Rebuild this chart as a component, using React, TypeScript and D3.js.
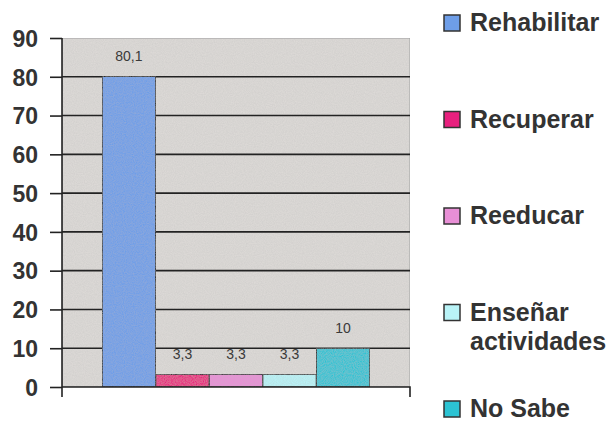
import React, { useEffect, useRef } from "react";
import { axisLeft, scaleBand, scaleLinear, scalePoint, select } from "d3";

const series = ["Rehabilitar", "Recuperar", "Reeducar", "Enseñar actividades", "No Sabe"];
const values = [80.1, 3.3, 3.3, 3.3, 10];
const valueLabels = ["80,1", "3,3", "3,3", "3,3", "10"];
const colors = ["#6e9ee8", "#e8207e", "#e88fd6", "#b9f3f7", "#2cc3d3"];
const yTicks = [0, 10, 20, 30, 40, 50, 60, 70, 80, 90];

const width = 616;
const height = 427;
const plot = { left: 62, right: 410, top: 38, bottom: 387 };
const font = "'Liberation Sans', Arial, sans-serif";

export default function App() {
  const svgRef = useRef<SVGSVGElement | null>(null);

  useEffect(() => {
    const svg = select(svgRef.current);
    svg.selectAll("*").remove();

    const defs = svg.append("defs");
    const filter = defs.append("filter").attr("id", "grain").attr("x", 0).attr("y", 0).attr("width", 1).attr("height", 1);
    filter
      .append("feTurbulence")
      .attr("type", "fractalNoise")
      .attr("baseFrequency", 0.9)
      .attr("numOctaves", 2)
      .attr("seed", 3)
      .attr("result", "noise");
    filter
      .append("feColorMatrix")
      .attr("in", "noise")
      .attr("type", "matrix")
      .attr("values", "0 0 0 0 0.5  0 0 0 0 0.5  0 0 0 0 0.5  0 0 0 0.5 -0.1")
      .attr("result", "speck");
    filter.append("feComposite").attr("in", "speck").attr("in2", "SourceGraphic").attr("operator", "atop");

    const y = scaleLinear().domain([0, 90]).range([plot.bottom, plot.top]);
    const x = scaleBand<string>()
      .domain(series)
      .range([plot.left, plot.right])
      .paddingInner(0)
      .paddingOuter(0.75);

    // plot background
    svg
      .append("rect")
      .attr("x", plot.left)
      .attr("y", plot.top)
      .attr("width", plot.right - plot.left)
      .attr("height", plot.bottom - plot.top)
      .attr("fill", "#dcd9d6")
      .attr("stroke", "#9a9a9a")
      .attr("stroke-width", 1)
      .attr("filter", "url(#grain)");

    // gridlines
    svg
      .append("g")
      .selectAll("line")
      .data(yTicks.filter((t) => t > 0 && t < 90))
      .join("line")
      .attr("x1", plot.left)
      .attr("x2", plot.right)
      .attr("y1", (d) => y(d))
      .attr("y2", (d) => y(d))
      .attr("stroke", "#222")
      .attr("stroke-width", 1.6);

    // bars
    svg
      .append("g")
      .selectAll("rect")
      .data(series)
      .join("rect")
      .attr("x", (d) => x(d)!)
      .attr("y", (d, i) => y(values[i]))
      .attr("width", x.bandwidth())
      .attr("height", (d, i) => y(0) - y(values[i]))
      .attr("fill", (d, i) => colors[i])
      .attr("stroke", "#2a2a2a")
      .attr("stroke-width", 1.2)
      .attr("filter", "url(#grain)");

    // value labels
    svg
      .append("g")
      .selectAll("text")
      .data(series)
      .join("text")
      .attr("x", (d) => x(d)! + x.bandwidth() / 2)
      .attr("y", (d, i) => y(values[i]) - 15)
      .attr("text-anchor", "middle")
      .attr("font-family", font)
      .attr("font-size", 14)
      .attr("fill", "#3a3a3a")
      .text((d, i) => valueLabels[i]);

    // y axis
    const yAxis = svg
      .append("g")
      .attr("transform", `translate(${plot.left},0)`)
      .call(axisLeft(y).tickValues(yTicks).tickSize(12).tickPadding(12));
    yAxis.select(".domain").attr("stroke", "#222").attr("stroke-width", 1.6).attr("d", `M0,${plot.top}V${plot.bottom + 10}`);
    yAxis.selectAll(".tick line").attr("stroke", "#222").attr("stroke-width", 1.6);
    yAxis
      .selectAll(".tick text")
      .attr("font-family", font)
      .attr("font-size", 23)
      .attr("font-weight", "bold")
      .attr("fill", "#333")
      .attr("dy", "0.36em");

    // x axis line and end ticks
    svg
      .append("path")
      .attr("d", `M${plot.left},${plot.bottom}H${plot.right}V${plot.bottom + 10}`)
      .attr("fill", "none")
      .attr("stroke", "#222")
      .attr("stroke-width", 1.6);

    // legend
    const ly = scalePoint<string>().domain(series).range([31, 417]);
    const legend = svg
      .append("g")
      .selectAll("g")
      .data(series)
      .join("g")
      .attr("transform", (d) => `translate(444,${ly(d)})`);
    legend
      .append("rect")
      .attr("x", 0)
      .attr("y", -16)
      .attr("width", 16)
      .attr("height", 16)
      .attr("fill", (d, i) => colors[i])
      .attr("stroke", "#333")
      .attr("stroke-width", 1.5);
    legend
      .append("text")
      .attr("x", 26)
      .attr("y", 0)
      .attr("font-family", font)
      .attr("font-size", 25)
      .attr("font-weight", "bold")
      .attr("fill", "#333")
      .each(function (d) {
        const words = d === "Enseñar actividades" ? ["Enseñar", "actividades"] : [d];
        words.forEach((w, k) => {
          select(this)
            .append("tspan")
            .attr("x", 26)
            .attr("dy", k === 0 ? 0 : 29)
            .text(w);
        });
      });
  }, []);

  return (
    <svg
      ref={svgRef}
      width={width}
      height={height}
      style={{ position: "absolute", left: 0, top: 0, background: "#fff" }}
    />
  );
}
